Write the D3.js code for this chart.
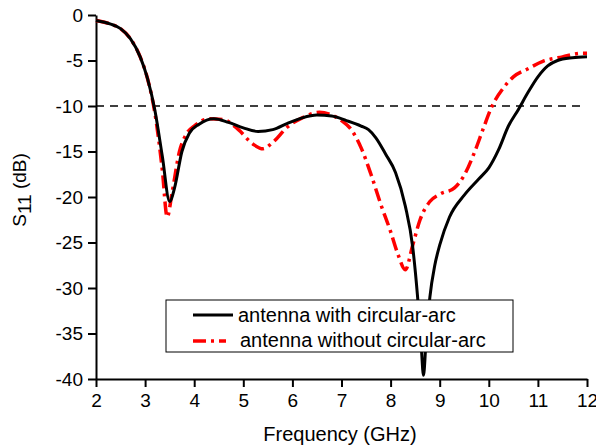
<!DOCTYPE html>
<html>
<head>
<meta charset="utf-8">
<script src="https://cdn.jsdelivr.net/npm/d3@7"></script>
<style>
  html, body { margin: 0; padding: 0; background: #fff; }
  svg { display: block; font-family: "Liberation Sans", Arial, sans-serif; }
</style>
</head>
<body>
<svg id="chart" width="596" height="448"></svg>
<script>
// S11 of the antenna, with and without the circular arc
const freqWith = [2.0, 2.3, 2.5, 2.7, 2.9, 3.05, 3.2, 3.35, 3.5, 3.6, 3.75, 3.9, 4.1, 4.4, 4.7, 5.0, 5.3, 5.6, 5.9, 6.2, 6.5, 6.8, 7.1, 7.4, 7.55, 7.7, 7.9, 8.1, 8.3, 8.45, 8.55, 8.62, 8.67, 8.72, 8.8, 8.9, 9.0, 9.2, 9.5, 9.8, 10.0, 10.2, 10.4, 10.6, 10.8, 11.0, 11.2, 11.4, 11.7, 12.0];
const s11With  = [-0.6, -1.0, -1.5, -2.6, -4.6, -7.0, -10.5, -15.5, -20.5, -19.0, -15.0, -13.0, -12.0, -11.4, -11.8, -12.4, -12.8, -12.6, -11.9, -11.3, -11.0, -11.1, -11.6, -12.2, -12.6, -13.5, -15.3, -17.3, -21.0, -25.5, -31.0, -36.0, -39.6, -36.0, -31.0, -27.5, -25.3, -22.2, -19.8, -18.0, -16.8, -14.8, -12.2, -10.4, -8.5, -6.8, -5.6, -5.0, -4.7, -4.6];

const freqWithout = [2.0, 2.3, 2.5, 2.7, 2.9, 3.05, 3.2, 3.35, 3.45, 3.55, 3.7, 3.85, 4.0, 4.3, 4.6, 4.9, 5.2, 5.4, 5.6, 5.9, 6.2, 6.55, 6.8, 7.0, 7.2, 7.4, 7.6, 7.8, 8.0, 8.15, 8.3, 8.45, 8.6, 8.8, 9.0, 9.3, 9.5, 9.7, 9.9, 10.05, 10.3, 10.5, 10.8, 11.1, 11.5, 11.9, 12.0];
const s11Without  = [-0.6, -1.0, -1.5, -2.6, -4.6, -7.0, -10.8, -17.0, -22.2, -19.5, -15.0, -13.0, -12.2, -11.4, -11.5, -12.6, -14.2, -14.7, -14.0, -12.3, -11.3, -10.7, -11.0, -11.6, -12.6, -14.6, -17.5, -20.8, -23.8, -26.3, -28.0, -25.3, -22.5, -20.5, -19.7, -19.0, -17.6, -15.2, -12.3, -10.2, -8.0, -6.8, -5.9, -5.1, -4.6, -4.2, -4.2];

const xTicks = [2, 3, 4, 5, 6, 7, 8, 9, 10, 11, 12];
const yTicks = [0, -5, -10, -15, -20, -25, -30, -35, -40];
const threshold = -10;
const legendLabels = ["antenna with circular-arc", "antenna without circular-arc"];

const svg = d3.select("#chart");
const x = d3.scaleLinear().domain([2, 12]).range([96, 587]);
const y = d3.scaleLinear().domain([-40, 0]).range([379, 15]);

// axes
const xAxis = d3.axisBottom(x).tickValues(xTicks).tickSize(8).tickPadding(3).tickSizeOuter(0);
const yAxis = d3.axisLeft(y).tickValues(yTicks).tickSize(8).tickPadding(5).tickSizeOuter(0);

const gx = svg.append("g").attr("transform", `translate(0,${y(-40)})`).call(xAxis);
const gy = svg.append("g").attr("transform", `translate(${x(2)},0)`).call(yAxis);
[gx, gy].forEach(g => {
  g.attr("font-family", null).attr("font-size", null);
  g.select(".domain").attr("stroke", "#000").attr("stroke-width", 2);
  g.selectAll(".tick line").attr("stroke", "#000").attr("stroke-width", 2);
  g.selectAll(".tick text").attr("fill", "#000").style("font-size", "19px");
});
gx.selectAll(".tick text").attr("dy", "0.9em");
gy.selectAll(".tick text").attr("dy", "0.34em").text(d => d === 0 ? "0" : "-" + Math.abs(d));

// -10 dB reference line
svg.append("line")
  .attr("x1", x(2)).attr("x2", x(11.9))
  .attr("y1", y(threshold)).attr("y2", y(threshold))
  .attr("stroke", "#000").attr("stroke-width", 1.5)
  .attr("stroke-dasharray", "8,6");

const line = d3.line().x(d => x(d[0])).y(d => y(d[1])).curve(d3.curveMonotoneX);

svg.append("path")
  .datum(d3.zip(freqWithout, s11Without))
  .attr("d", line)
  .attr("fill", "none").attr("stroke", "#ff0000").attr("stroke-width", 3.5)
  .attr("stroke-dasharray", "13,5,3,5");

svg.append("path")
  .datum(d3.zip(freqWith, s11With))
  .attr("d", line)
  .attr("fill", "none").attr("stroke", "#000").attr("stroke-width", 3);

// legend
const lg = svg.append("g");
lg.append("rect").attr("x", 166).attr("y", 300).attr("width", 347).attr("height", 52)
  .attr("fill", "#fff").attr("stroke", "#000").attr("stroke-width", 1);
lg.append("line").attr("x1", 193).attr("x2", 233).attr("y1", 315).attr("y2", 315)
  .attr("stroke", "#000").attr("stroke-width", 3);
lg.append("line").attr("x1", 193).attr("x2", 226).attr("y1", 341).attr("y2", 341)
  .attr("stroke", "#ff0000").attr("stroke-width", 3.5).attr("stroke-dasharray", "13,5,3,5");
lg.append("text").attr("x", 238).attr("y", 322).text(legendLabels[0])
  .style("font-size", "20px").attr("fill", "#000");
lg.append("text").attr("x", 240).attr("y", 347).text(legendLabels[1])
  .style("font-size", "20px").attr("fill", "#000");

// axis titles
svg.append("text").attr("x", 340).attr("y", 441).attr("text-anchor", "middle")
  .style("font-size", "20px").text("Frequency (GHz)");

const yt = svg.append("text")
  .attr("transform", "translate(26,190) rotate(-90)")
  .attr("text-anchor", "middle").style("font-size", "19px");
yt.append("tspan").text("S");
yt.append("tspan").attr("dy", 5).text("11");
yt.append("tspan").attr("dy", -5).text(" (dB)");
</script>
</body>
</html>
